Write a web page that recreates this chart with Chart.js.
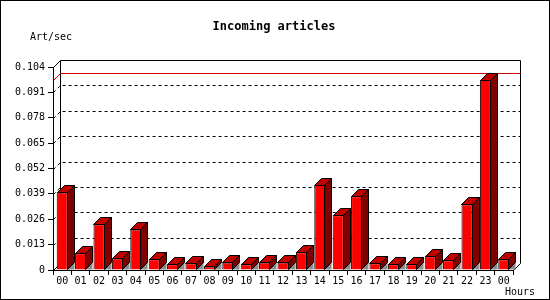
<!DOCTYPE html>
<html>
<head>
<meta charset="utf-8">
<script src="https://cdn.jsdelivr.net/npm/chart.js@4/dist/chart.umd.min.js"></script>
<style>
  body { margin: 0; background: #fff; }
  canvas { display: block; }
</style>
</head>
<body>
<canvas id="chart" width="550" height="300"></canvas>
<script>
const hours = ['00','01','02','03','04','05','06','07','08','09','10','11','12',
               '13','14','15','16','17','18','19','20','21','22','23','00'];
const articlesPerSec = [0.0398, 0.0086, 0.0234, 0.0060, 0.0208, 0.0055, 0.0029, 0.0034,
                        0.0019, 0.0039, 0.0029, 0.0039, 0.0039, 0.0091, 0.0435, 0.0280,
                        0.0378, 0.0034, 0.0029, 0.0029, 0.0070, 0.0050, 0.0337, 0.0973, 0.0055];
const yTickValues = [0, 0.013, 0.026, 0.039, 0.052, 0.065, 0.078, 0.091, 0.104];
const yTickLabels = ['0', '0.013', '0.026', '0.039', '0.052', '0.065', '0.078', '0.091', '0.104'];

const DEPTH = 7;
const MONO = '"DejaVu Sans Mono", "Liberation Mono", monospace';

// back wall, grid, max line, and the 3d faces of the bars
const threeD = {
  id: 'threeD',
  beforeDatasetsDraw(chart) {
    const { ctx, chartArea: a, scales: { y } } = chart;
    const L = a.left + 0.5, R = a.right + 0.5, T = Math.round(a.top) + 0.5, B = Math.round(a.bottom) + 0.5;
    ctx.save();
    ctx.strokeStyle = '#000';
    ctx.lineWidth = 1;
    ctx.strokeRect(0.5, 0.5, 549, 299);

    // dashed grid on the back wall + left wall
    ctx.setLineDash([3, 3]);
    yTickValues.forEach(v => {
      if (v <= 0 || v >= yTickValues[yTickValues.length - 1]) return;
      const py = Math.round(y.getPixelForValue(v)) + 0.5;
      ctx.beginPath();
      ctx.moveTo(L, py);
      ctx.lineTo(L + DEPTH, py - DEPTH);
      ctx.lineTo(R + DEPTH, py - DEPTH);
      ctx.stroke();
    });
    ctx.setLineDash([]);

    // back frame
    ctx.beginPath();
    ctx.moveTo(L, T);
    ctx.lineTo(L + DEPTH, T - DEPTH);
    ctx.lineTo(R + DEPTH, T - DEPTH);
    ctx.lineTo(R + DEPTH, B - DEPTH);
    ctx.lineTo(R, B);
    ctx.moveTo(L + DEPTH, T - DEPTH);
    ctx.lineTo(L + DEPTH, B - DEPTH);
    ctx.lineTo(L, B);
    ctx.stroke();

    // max line
    const my = Math.round(y.getPixelForValue(Math.max(...articlesPerSec))) + 0.5;
    ctx.strokeStyle = '#d00000';
    ctx.beginPath();
    ctx.moveTo(L, my);
    ctx.lineTo(L + DEPTH, my - DEPTH);
    ctx.lineTo(R + DEPTH, my - DEPTH);
    ctx.stroke();
    ctx.restore();
  },
  afterDatasetsDraw(chart) {
    const { ctx } = chart;
    const meta = chart.getDatasetMeta(0);
    ctx.save();
    ctx.lineWidth = 1;
    ctx.strokeStyle = '#000';
    meta.data.forEach(bar => {
      const left = Math.round(bar.x - bar.width / 2) + 0.5;
      const right = Math.round(bar.x + bar.width / 2) - 0.5;
      const top = Math.round(bar.y) + 0.5;
      const base = Math.round(bar.base) - 0.5;
      // floor shadow
      ctx.fillStyle = '#8c8c8c';
      ctx.beginPath();
      ctx.moveTo(right, base);
      ctx.lineTo(right + DEPTH, base - DEPTH);
      ctx.lineTo(right + DEPTH, base);
      ctx.closePath();
      ctx.fill();
      // side face
      ctx.fillStyle = '#800000';
      ctx.beginPath();
      ctx.moveTo(right, top);
      ctx.lineTo(right + DEPTH, top - DEPTH);
      ctx.lineTo(right + DEPTH, base - DEPTH);
      ctx.lineTo(right, base);
      ctx.closePath();
      ctx.fill();
      ctx.stroke();
      // top face
      ctx.fillStyle = '#c00000';
      ctx.beginPath();
      ctx.moveTo(left, top);
      ctx.lineTo(left + DEPTH, top - DEPTH);
      ctx.lineTo(right + DEPTH, top - DEPTH);
      ctx.lineTo(right, top);
      ctx.closePath();
      ctx.fill();
      ctx.stroke();
    });
    ctx.restore();
  },
  afterDraw(chart) {
    const { ctx } = chart;
    ctx.save();
    ctx.fillStyle = '#000';
    ctx.textBaseline = 'middle';
    ctx.font = 'bold 12px ' + MONO;
    ctx.textAlign = 'center';
    ctx.fillText('Incoming articles', 274, 27);
    ctx.font = '10px ' + MONO;
    ctx.textAlign = 'left';
    ctx.fillText('Art/sec', 30, 37);
    ctx.fillText('Hours', 505, 292);
    ctx.restore();
  }
};

Chart.defaults.color = '#000';
Chart.defaults.font.family = MONO;
Chart.defaults.font.size = 10;

const ctx = document.getElementById('chart').getContext('2d');
new Chart(ctx, {
  type: 'bar',
  data: {
    labels: hours,
    datasets: [{
      data: articlesPerSec,
      backgroundColor: '#ff0000',
      borderColor: '#000',
      borderWidth: 1,
      barPercentage: 0.6,
      categoryPercentage: 1
    }]
  },
  options: {
    responsive: false,
    animation: false,
    devicePixelRatio: 1,
    layout: { padding: { top: 67, right: 37, left: 0, bottom: 0 } },
    plugins: { legend: { display: false }, tooltip: { enabled: false } },
    scales: {
      x: {
        offset: true,
        afterFit: s => { s.height = 30; },
        grid: { offset: true, drawOnChartArea: false, tickLength: 5, color: '#000' },
        border: { color: '#000' },
        ticks: { autoSkip: false, maxRotation: 0, padding: 0 }
      },
      y: {
        min: 0,
        max: 0.104,
        afterFit: s => { s.width = 53; },
        afterBuildTicks: s => { s.ticks = yTickValues.map(v => ({ value: v })); },
        grid: { drawOnChartArea: false, tickLength: 5, color: '#000' },
        border: { color: '#000' },
        ticks: { padding: 3, callback: (v, i) => yTickLabels[i] }
      }
    }
  },
  plugins: [threeD]
});
</script>
</body>
</html>
